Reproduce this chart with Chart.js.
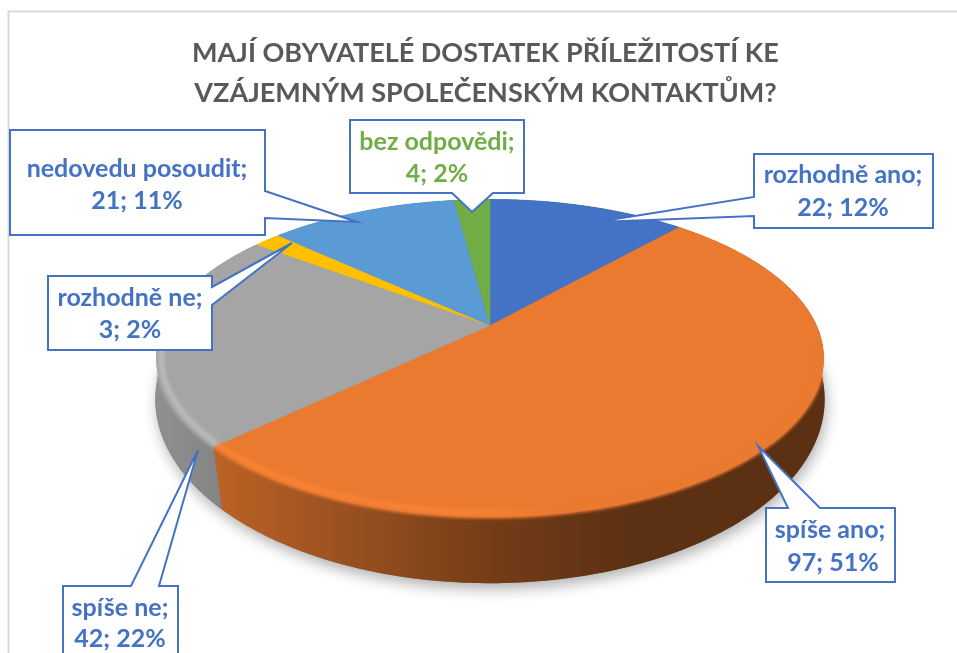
<!DOCTYPE html>
<html><head><meta charset="utf-8">
<style>html,body{margin:0;padding:0;background:#fff;overflow:hidden}canvas{display:block}</style>
<script src="https://cdn.jsdelivr.net/npm/chart.js@4"></script></head>
<body><canvas id="c" width="957" height="653"></canvas>
<script>
const categories = ['rozhodně ano','spíše ano','spíše ne','rozhodně ne','nedovedu posoudit','bez odpovědi'];
const counts = [22,97,42,3,21,4];
const sliceColors = ['#4472c4','#ea7a30','#a5a5a5','#ffc000','#5b9bd5','#70ad47'];
const titleLines = ['MAJÍ OBYVATELÉ DOSTATEK PŘÍLEŽITOSTÍ KE','VZÁJEMNÝM SPOLEČENSKÝM KONTAKTŮM?'];
const labelColors = ['#4472c4','#4472c4','#4472c4','#4472c4','#4472c4','#70ad47'];

// Callout layout: [left, top, right, bottom], pointer polyline, text centre, baselines
const callouts = [
 {box:[754,154,933,228],side:'l',ptr:[[754,216],[597,222],[754,197]],tx:843,by:[183,216]},
 {box:[766,508,895,582],side:'t',ptr:[[788,508],[758,446],[820,508]],tx:830,tx2:833,by:[538,571]},
 {box:[63,586,178,662],side:'t',ptr:[[131,586],[198,450],[159,586]],tx:120,by:[616,647]},
 {box:[48,276,212,350],side:'r',ptr:[[212,287],[292,243],[212,305]],tx:130,by:[306,338]},
 {box:[10,130,265,235],side:'r',ptr:[[265,191],[357,222],[265,218]],tx:137,by:[177,209]},
 {box:[350,120,524,193],side:'b',ptr:[[493,193],[472,212],[452,193]],tx:437,by:[150,182]}
];

// Perspective of the tilted disc, relative to the pie radius the library computes
const R0 = 214, SHIFT = 4.5, P = 0.206, AX = 328.8/R0, BY = 153.2/R0;
const P2 = 0.15, LOW = {dy:74, rx:337/R0, ry:185/R0};
const project = (el,a) => {
  const w = 1 - P*Math.sin(a);
  return [el.x + SHIFT + AX*el.outerRadius*Math.cos(a)/w, el.y + BY*el.outerRadius*Math.sin(a)/w];
};
const lower = (el,a) => {
  const s=Math.sin(a), w=1-P2*s, u=Math.cos(a)/w*Math.sqrt(1-P2*P2), v=(s-P2)/w;
  return [el.x + SHIFT + LOW.rx*el.outerRadius*u, el.y + LOW.dy + LOW.ry*el.outerRadius*v];
};
const sample = (a0,a1) => { const n=Math.max(2,Math.ceil(Math.abs(a1-a0)/0.01)), o=[]; for(let i=0;i<=n;i++)o.push(a0+(a1-a0)*i/n); return o; };
const rgb = h => [1,3,5].map(i=>parseInt(h.substr(i,2),16));
const shade = (h,f) => 'rgb('+rgb(h).map(v=>Math.min(255,Math.round(v*f))).join(',')+')';
const trace = (c,pts) => pts.forEach((p,j)=>j?c.lineTo(p[0],p[1]):c.moveTo(p[0],p[1]));

const disc3d = {
  id:'disc3d',
  beforeDraw(chart){
    const c=chart.ctx; c.save(); c.strokeStyle='#d9d9d9'; c.lineWidth=2;
    c.beginPath(); c.moveTo(8.5,660); c.lineTo(8.5,11.5); c.lineTo(960,11.5); c.stroke(); c.restore();
  },
  beforeDatasetsDraw(chart){
    const c=chart.ctx, arcs=chart.getDatasetMeta(0).data, el0=arcs[0];
    const faceClip=()=>{c.beginPath(); trace(c,sample(0,Math.PI*2).map(a=>project(el0,a))); c.closePath(); c.clip();};
    // soft shadow beneath the disc
    c.save(); c.shadowColor='rgba(0,0,0,0.30)'; c.shadowBlur=14; c.shadowOffsetY=6; c.shadowOffsetX=2; c.fillStyle='#777';
    c.beginPath(); trace(c,sample(0,Math.PI*2).map(a=>lower(el0,a))); c.closePath(); c.fill(); c.restore();
    // side walls
    arcs.forEach((el,i)=>{
      const as=sample(el.startAngle,el.endAngle);
      const g=c.createLinearGradient(150,0,825,0), col=sliceColors[i];
      g.addColorStop(0,shade(col,0.88)); g.addColorStop(0.1,shade(col,0.8)); g.addColorStop(0.5,shade(col,0.5)); g.addColorStop(0.72,shade(col,0.39)); g.addColorStop(1,shade(col,0.39));
      c.fillStyle=g; c.beginPath();
      trace(c,as.map(a=>project(el,a)));
      as.slice().reverse().forEach(a=>{const q=lower(el,a); c.lineTo(q[0],q[1]);});
      c.closePath(); c.fill();
    });
    // blurred edge between wall and top
    arcs.forEach((el,i)=>{
      const as=sample(el.startAngle,el.endAngle).filter(a=>Math.sin(a)>0.3);
      if(as.length<2)return;
      c.save(); c.filter='blur(1.5px)'; c.strokeStyle=sliceColors[i]; c.lineWidth=3; c.beginPath();
      trace(c,as.map(a=>project(el,a))); c.stroke(); c.restore();
    });
    // top faces
    arcs.forEach((el,i)=>{
      c.fillStyle=sliceColors[i]; c.strokeStyle=sliceColors[i]; c.lineWidth=0.5; c.beginPath();
      c.moveTo(el.x+SHIFT,el.y);
      sample(el.startAngle,el.endAngle).forEach(a=>{const p=project(el,a); c.lineTo(p[0],p[1]);});
      c.closePath(); c.fill(); c.stroke();
    });
    // bevel highlight just inside the front edge
    c.save(); faceClip();
    arcs.forEach((el,i)=>{
      const as=sample(el.startAngle,el.endAngle).filter(a=>Math.sin(a)>0.12);
      if(as.length<2)return;
      const col=sliceColors[i], g=c.createLinearGradient(150,0,825,0);
      const hi=col==='#a5a5a5'?1.18:1.1;
      g.addColorStop(0,shade(col,hi)); g.addColorStop(0.48,shade(col,hi)); g.addColorStop(0.6,shade(col,1)); g.addColorStop(1,shade(col,1));
      const cx=el.x+SHIFT;
      c.save(); c.filter='blur(2px)'; c.strokeStyle=g; c.lineWidth=4; c.beginPath();
      trace(c,as.map(a=>{const p=project(el,a); return [cx+(p[0]-cx)*0.985,el.y+(p[1]-el.y)*0.975];})); c.stroke(); c.restore();
    });
    c.restore();
    return false;
  },
  afterDraw(chart){
    const c=chart.ctx, total=counts.reduce((a,b)=>a+b,0);
    callouts.forEach((k,i)=>{
      const [l,t,r,b]=k.box; const pts=[[l,t],[r,t],[r,b],[l,b]];
      const ins={t:1,r:2,b:3,l:4}[k.side];
      const path=pts.slice(0,ins).concat(k.ptr,pts.slice(ins));
      c.save(); c.beginPath(); trace(c,path); c.closePath();
      c.fillStyle='#fff'; c.fill(); c.strokeStyle='#4472c4'; c.lineWidth=2; c.lineJoin='miter'; c.stroke();
      c.fillStyle=labelColors[i]; c.font='bold 25px Lato'; c.textAlign='center'; c.textBaseline='alphabetic';
      c.fillText(categories[i]+';',k.tx,k.by[0]);
      c.fillText(counts[i]+'; '+Math.round(counts[i]/total*100)+'%',k.tx2||k.tx,k.by[1]);
      c.restore();
    });
  }
};

new Chart(document.getElementById('c'),{
  type:'pie',
  data:{labels:categories,datasets:[{data:counts,backgroundColor:sliceColors,borderWidth:0}]},
  options:{
    responsive:false,animation:false,
    rotation:0,
    layout:{padding:{left:14,top:0,right:0,bottom:115}},
    plugins:{
      legend:{display:false},tooltip:{enabled:false},
      title:{display:true,text:titleLines,color:'#595959',font:{family:'Lato',weight:'bold',size:27,lineHeight:40/27},padding:{top:33,bottom:0},align:'center'}
    }
  },
  plugins:[disc3d]
});
</script></body></html>
